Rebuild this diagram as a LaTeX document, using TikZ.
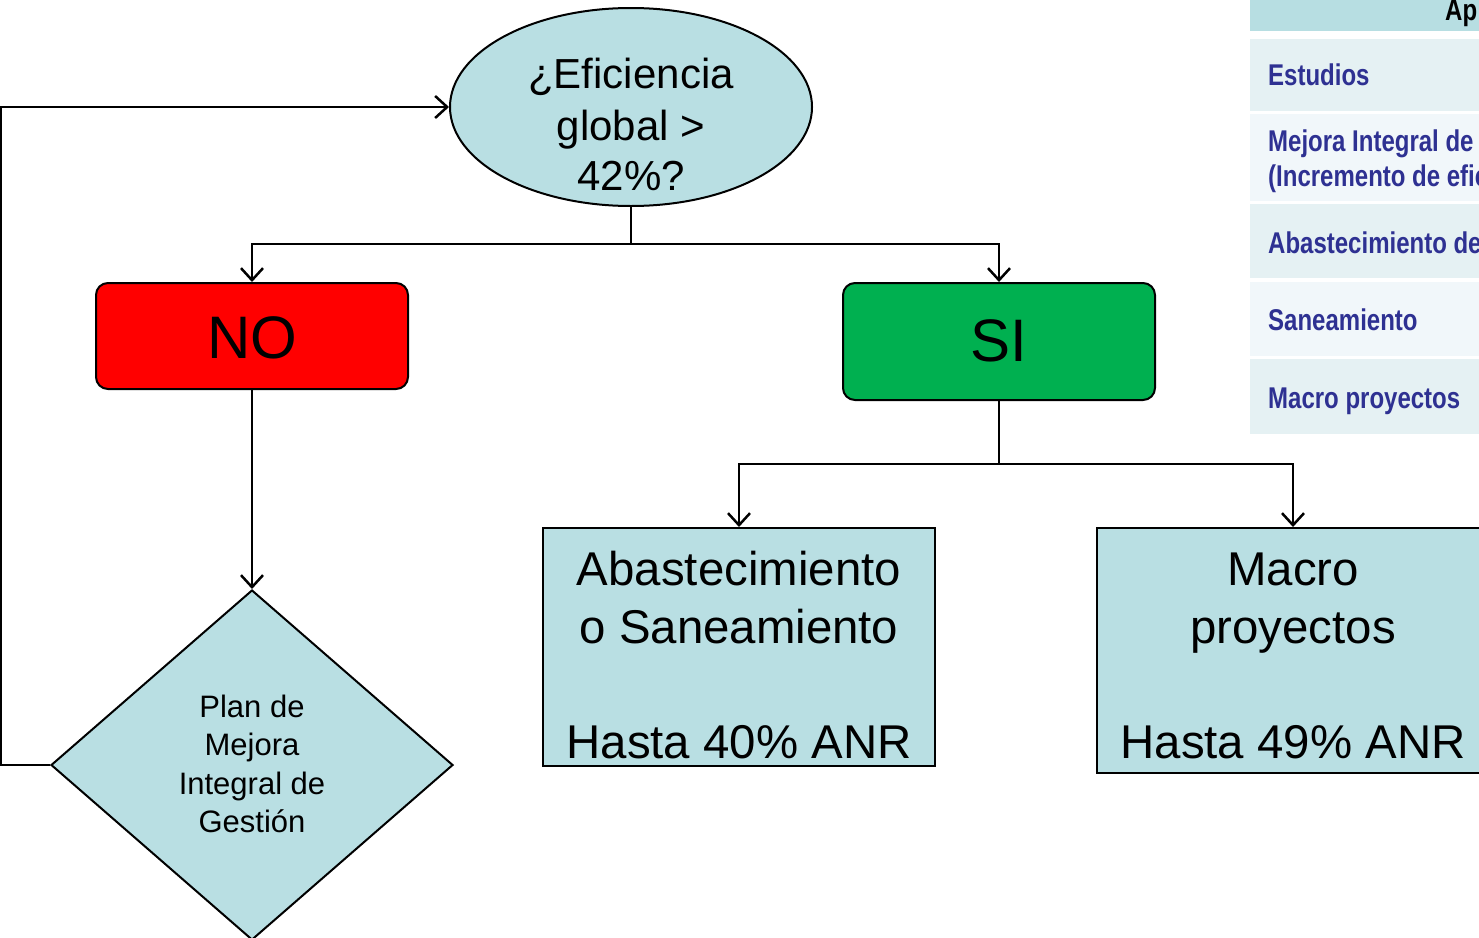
\documentclass[tikz,border=0pt]{standalone}
\usepackage{fontspec}
\setmainfont{Liberation Sans}
\newfontfamily\tablefont[FakeStretch=0.8]{Liberation Sans}
\usetikzlibrary{shapes.geometric,arrows.meta}
\definecolor{lightteal}{RGB}{185,223,227}
\definecolor{hdrteal}{RGB}{183,222,226}
\definecolor{rowdark}{RGB}{229,241,243}
\definecolor{rowlight}{RGB}{241,247,250}
\definecolor{tblue}{RGB}{46,49,146}
\definecolor{nored}{RGB}{255,0,0}
\definecolor{sigreen}{RGB}{0,176,80}
\tikzset{
  conn/.style={line width=2.5pt, draw=black},
  arr/.style={conn, -{Straight Barb[length=12pt,width=22pt]}},
  shapeline/.style={draw=black, line width=2pt},
  bigtxt/.style={anchor=base, inner sep=0pt, font=\fontsize{47.4}{57}\selectfont},
  elltxt/.style={anchor=base, inner sep=0pt, font=\fontsize{42}{50}\selectfont},
  diatxt/.style={anchor=base, inner sep=0pt, font=\fontsize{31}{38}\selectfont},
  yntxt/.style={anchor=base, inner sep=0pt, font=\fontsize{60}{70}\selectfont},
  rowtxt/.style={anchor=base west, inner sep=0pt, text=tblue, font=\tablefont\bfseries\fontsize{30}{36}\selectfont},
}
\begin{document}
\begin{tikzpicture}[x=1pt,y=-1pt]
\useasboundingbox (0,0) rectangle (1479,937);
\clip (0,0) rectangle (1479,937);

% table at top right
\fill[hdrteal] (1250,0) rectangle (1500,31);
\fill[rowdark] (1250,39) rectangle (1500,111);
\fill[rowlight] (1250,114) rectangle (1500,201);
\fill[rowdark] (1250,204) rectangle (1500,278);
\fill[rowlight] (1250,282) rectangle (1500,356);
\fill[rowdark] (1250,359) rectangle (1500,434);
\node[anchor=base west, inner sep=0pt, font=\tablefont\bfseries\fontsize{30}{36}\selectfont] (thead) at (1445,20) {Ap};
\node[rowtxt] (t1) at (1268,85) {Estudios};
\node[rowtxt] (t2a) at (1268,151) {Mejora Integral de};
\node[rowtxt] (t2b) at (1268,186) {(Incremento de efic};
\node[rowtxt] (t3) at (1268,253) {Abastecimiento de};
\node[rowtxt] (t4) at (1268,330) {Saneamiento};
\node[rowtxt] (t5) at (1268,408) {Macro proyectos};

% shapes
\node[shapeline, fill=lightteal, ellipse, minimum width=362pt, minimum height=198pt, inner sep=0pt] (ell) at (631,107) {};
\node[elltxt] (e1) at (631,88) {¿Eficiencia};
\node[elltxt] (e2) at (631,140) {global >};
\node[elltxt] (e3) at (631,190) {42\%?};

\node[shapeline, fill=nored, rounded corners=12pt, minimum width=312pt, minimum height=106pt, inner sep=0pt] (no) at (252,336) {};
\node[yntxt] (notxt) at (252,358) {NO};
\node[shapeline, fill=sigreen, rounded corners=12pt, minimum width=312pt, minimum height=117pt, inner sep=0pt] (si) at (999,341.5) {};
\node[yntxt] (sitxt) at (999,361) {SI};

\node[shapeline, fill=lightteal, diamond, minimum width=402pt, minimum height=350pt, inner sep=0pt] (dia) at (252,765) {};
\node[diatxt] (d1) at (252,717) {Plan de};
\node[diatxt] (d2) at (252,755) {Mejora};
\node[diatxt] (d3) at (252,794) {Integral de};
\node[diatxt] (d4) at (252,832) {Gestión};

\node[shapeline, fill=lightteal, minimum width=392pt, minimum height=238pt, inner sep=0pt] (abs) at (739,647) {};
\node[bigtxt] (a1) at (739,585) {Abastecimiento};
\node[bigtxt] (a2) at (739,643) {o Saneamiento};
\node[bigtxt] (a3) at (739,758) {Hasta 40\% ANR};

\node[shapeline, fill=lightteal, minimum width=392pt, minimum height=245pt, inner sep=0pt] (mac) at (1293,650.5) {};
\node[bigtxt] (m1) at (1293,585) {Macro};
\node[bigtxt] (m2) at (1293,643) {proyectos};
\node[bigtxt] (m3) at (1293,758) {Hasta 49\% ANR};

% connectors
\coordinate (j1) at (631,244);
\coordinate (j2) at (999,464);
\draw[conn] (ell.south) -- (j1);
\draw[arr] (j1) -| (no.north);
\draw[arr] (j1) -| (si.north);
\draw[arr] (no.south) -- (dia.north);
\draw[conn] (si.south) -- (j2);
\draw[arr] (j2) -| (abs.north);
\draw[arr] (j2) -| (mac.north);
\draw[arr] (dia.west) -- ++(-49,0) |- (ell.west);
\end{tikzpicture}
\end{document}
